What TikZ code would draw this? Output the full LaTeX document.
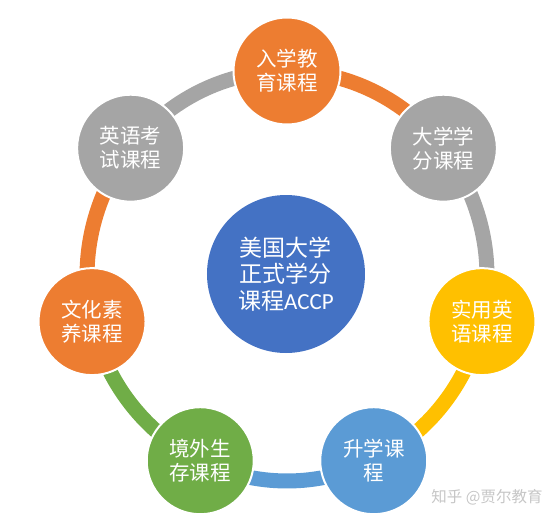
\documentclass[tikz,border=0pt]{standalone}
\usepackage{fontspec}
\newfontfamily\cjk{Noto Sans CJK SC}
\newfontfamily\lat{Carlito}
\usetikzlibrary{backgrounds}
\definecolor{accorange}{HTML}{ED7D31}
\definecolor{accgray}{HTML}{A5A5A5}
\definecolor{accyellow}{HTML}{FFC000}
\definecolor{acclight}{HTML}{5B9BD5}
\definecolor{accgreen}{HTML}{70AD47}
\definecolor{accblue}{HTML}{4472C4}
\tikzstyle{course}=[circle,minimum size=107pt,inner sep=0pt,draw=white,line width=2pt,text=white,align=center,font=\cjk\fontsize{20.5}{24}\selectfont]
\tikzstyle{core}=[course,minimum size=158pt,draw=none,fill=accblue,font=\cjk\fontsize{23}{26.5}\selectfont]
\tikzstyle{ring}=[line width=15pt]
\tikzstyle{watermark}=[text=gray!45,font=\cjk\fontsize{15.5}{17}\selectfont]
\begin{document}
\begin{tikzpicture}
\useasboundingbox (-287pt,-244pt) rectangle (273pt,276pt);

% the seven courses round the ring
\node (entry) [course,fill=accorange] at (90:200pt and 205pt) {入学教\\育课程};
\node (credit) [course,fill=accgray] at (38.57:200pt and 205pt) {大学学\\分课程};
\node (english) [course,fill=accyellow] at (-12.86:200pt and 205pt) {实用英\\语课程};
\node (transfer) [course,fill=acclight] at (-64.29:200pt and 205pt) {升学课\\程};
\node (abroad) [course,fill=accgreen] at (-115.71:200pt and 205pt) {境外生\\存课程};
\node (culture) [course,fill=accorange] at (-167.14:200pt and 205pt) {文化素\\养课程};
\node (exam) [course,fill=accgray] at (141.43:200pt and 205pt) {英语考\\试课程};

\node (core) [core] at (-1pt,2pt) {美国大学\\正式学分\\课程{\lat ACCP}};

\begin{scope}[on background layer]
\draw [ring,accorange] (entry.center) arc[start angle=90,end angle=38.57,x radius=200pt,y radius=205pt];
\draw [ring,accgray] (credit.center) arc[start angle=38.57,end angle=-12.86,x radius=200pt,y radius=205pt];
\draw [ring,accyellow] (english.center) arc[start angle=-12.86,end angle=-64.29,x radius=200pt,y radius=205pt];
\draw [ring,acclight] (transfer.center) arc[start angle=-64.29,end angle=-115.71,x radius=200pt,y radius=205pt];
\draw [ring,accgreen] (abroad.center) arc[start angle=-115.71,end angle=-167.14,x radius=200pt,y radius=205pt];
\draw [ring,accorange] (culture.center) arc[start angle=-167.14,end angle=-218.57,x radius=200pt,y radius=205pt];
\draw [ring,accgray] (exam.center) arc[start angle=141.43,end angle=90,x radius=200pt,y radius=205pt];
\end{scope}

\node (credit mark) [watermark] at (200pt,-221pt) {知乎 @贾尔教育};

\end{tikzpicture}
\end{document}
